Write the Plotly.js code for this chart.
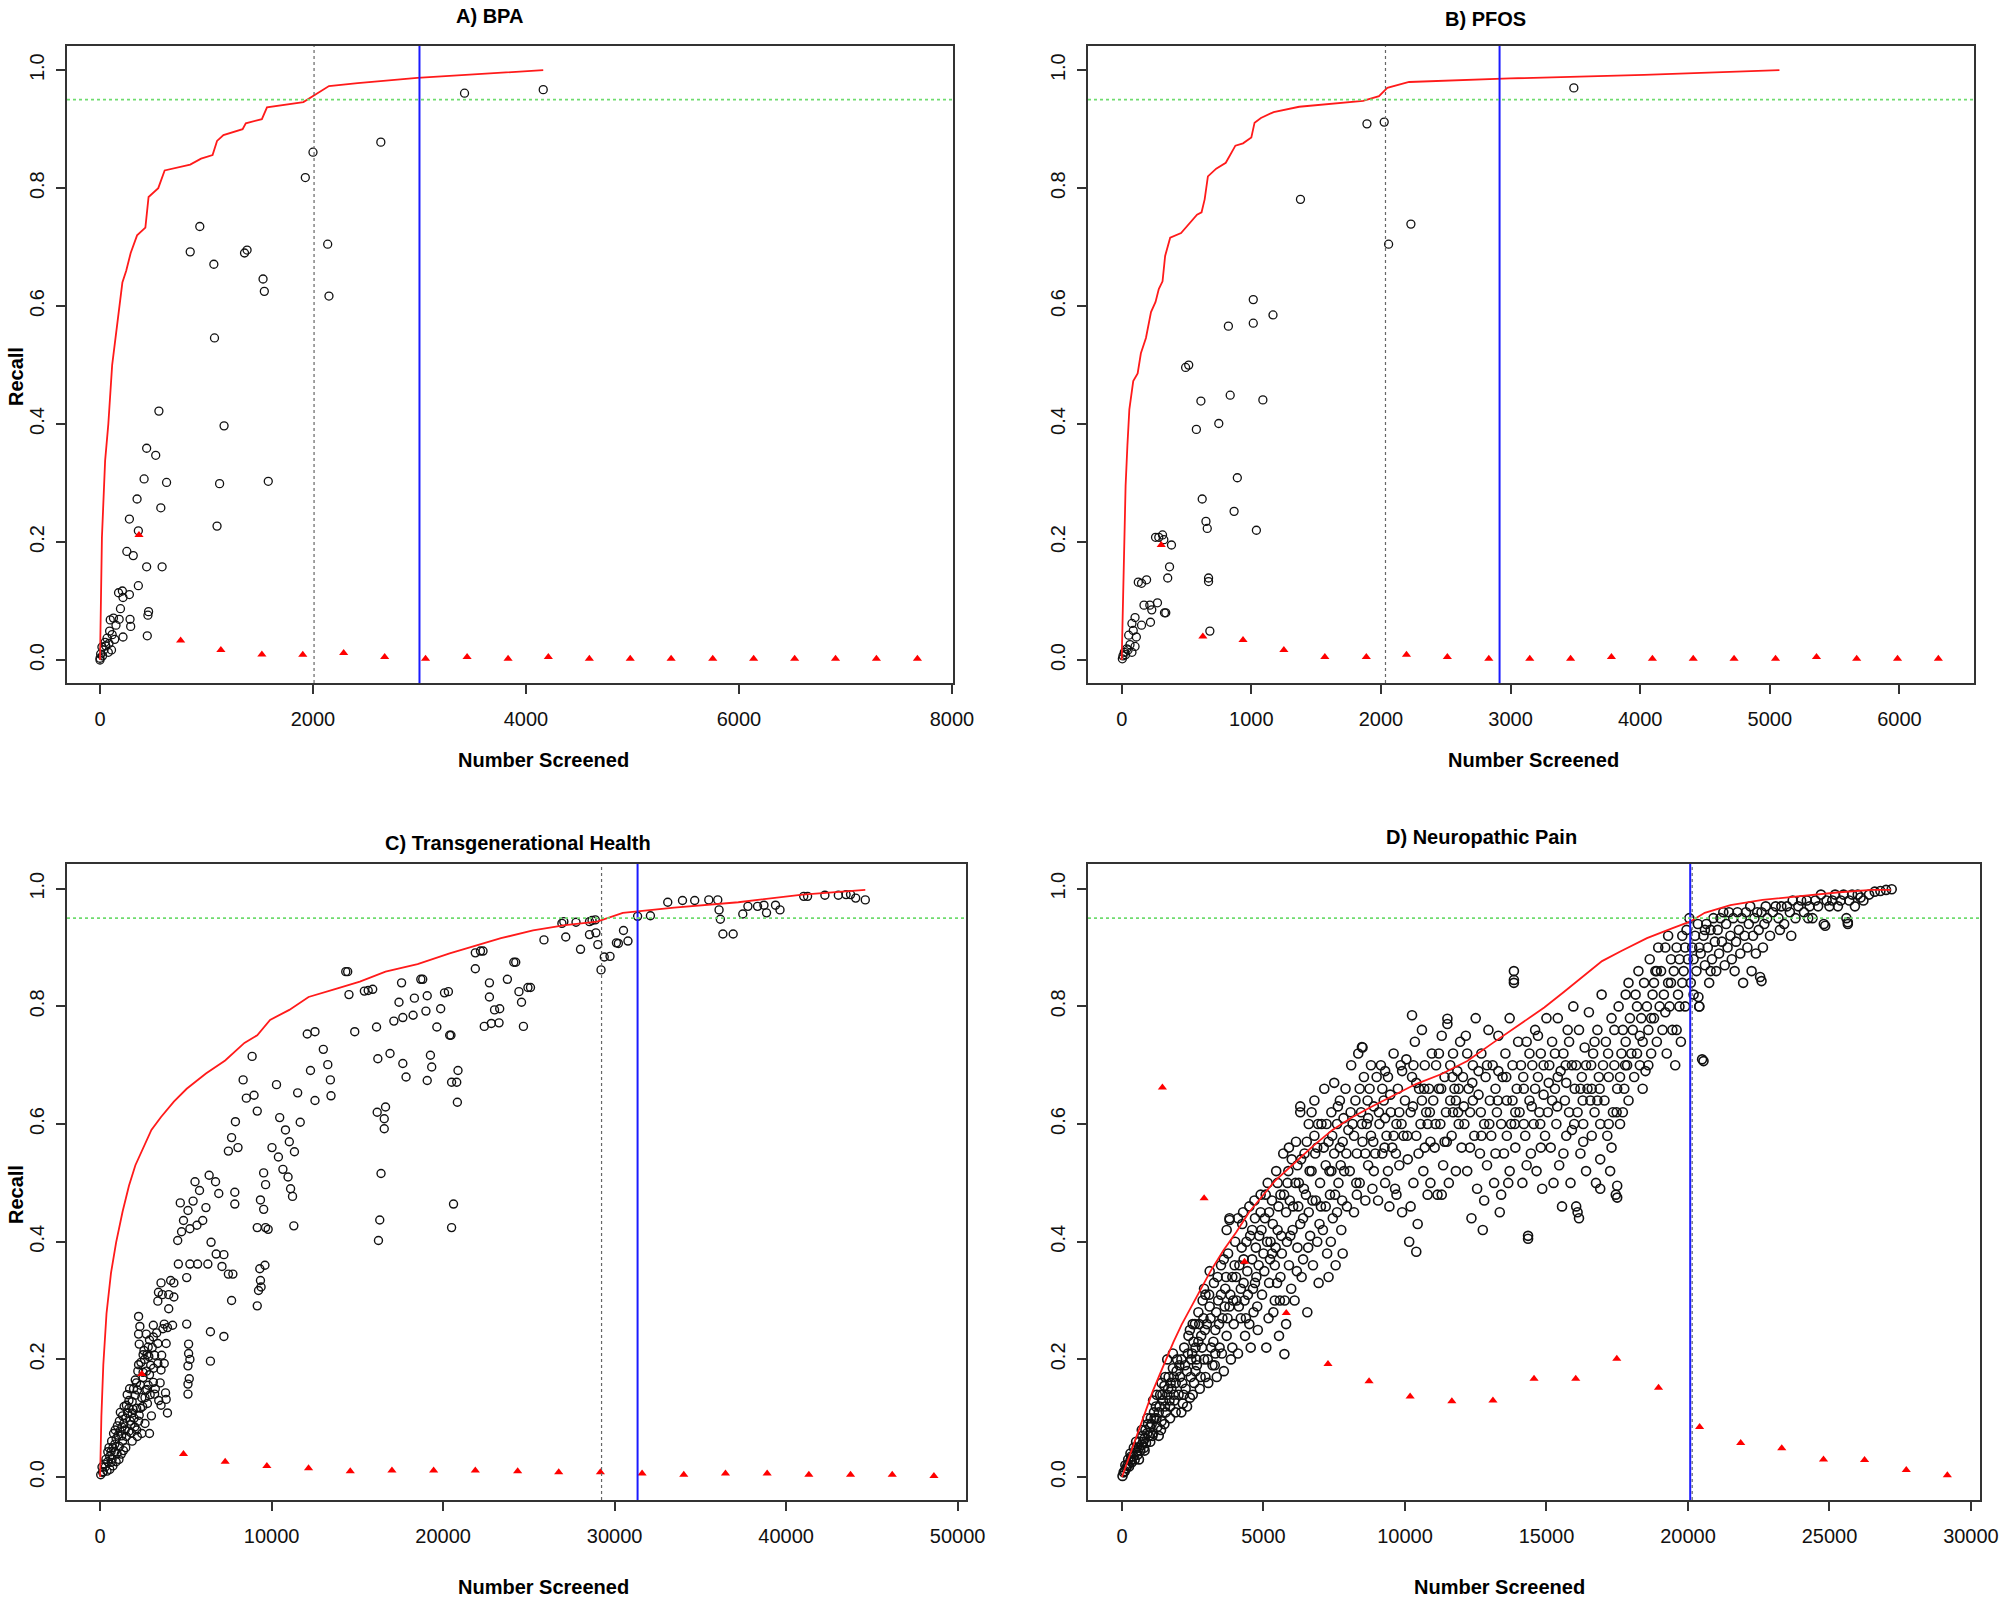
<!DOCTYPE html>
<html><head><meta charset="utf-8">
<script src="https://cdn.plot.ly/plotly-3.0.1.min.js"></script>
<style>html,body{margin:0;padding:0;background:#fff}#chart{width:2010px;height:1604px}</style>
</head><body><div id="chart"></div>
<script>
const panelTitles = ["A) BPA", "B) PFOS", "C) Transgenerational Health", "D) Neuropathic Pain"];
const xTitle = "Number Screened";
const yTitle = "Recall";
const targetRecall = 0.95;
const grayCutoffs = [2010, 2035, 29240, 20150];
const blueCutoffs = [3000, 2915, 31340, 20080];

// ---- A) BPA ----
const bpaCurve = [[0,0],[6,0.078],[18,0.208],[48,0.338],[78,0.40],[114,0.50],[156,0.56],[186,0.60],[210,0.64],[246,0.66],[288,0.69],[348,0.72],[426,0.733],[456,0.785],[547,0.80],[607,0.83],[679,0.833],[847,0.84],[949,0.85],[1057,0.856],[1099,0.88],[1159,0.89],[1339,0.90],[1369,0.91],[1520,0.917],[1568,0.937],[1910,0.946],[2060,0.963],[2132,0.97],[2150,0.973],[2420,0.978],[2979,0.987],[4162,1.0]];
const bpaCircles = [[3423,0.961],[4162,0.967],[2637,0.878],[2000,0.861],[1928,0.818],[2138,0.705],[2150,0.617],[937,0.735],[847,0.692],[1069,0.671],[1357,0.690],[1381,0.695],[1531,0.646],[1543,0.625],[1075,0.546],[553,0.422],[1165,0.397],[438,0.359],[523,0.347],[414,0.307],[625,0.301],[1123,0.299],[1580,0.303],[348,0.273],[571,0.258],[276,0.239],[1099,0.227],[360,0.219],[252,0.184],[312,0.177],[438,0.158],[583,0.158],[360,0.126],[210,0.117],[174,0.114],[276,0.111],[216,0.106],[192,0.087],[456,0.082],[450,0.076],[180,0.069],[282,0.069],[96,0.068],[126,0.071],[150,0.059],[288,0.057],[444,0.041],[216,0.039],[90,0.049],[66,0.037],[114,0.043],[48,0.030],[84,0.028],[18,0.022],[36,0.017],[108,0.017],[6,0.010],[24,0.007],[0,0.0],[54,0.024],[138,0.035],[78,0.013],[0,0.003]];
const bpaTriangles = [[366,0.212],[757,0.033],[1135,0.017],[1520,0.0095],[1904,0.0087],[2288,0.012],[2673,0.005],[3057,0.002],[3447,0.005],[3832,0.002],[4210,0.005],[4595,0.002],[4979,0.002],[5363,0.002],[5754,0.002],[6138,0.002],[6523,0.002],[6907,0.002],[7291,0.002],[7676,0.002]];

// ---- B) PFOS ----
const pfosCurve = [[0,0],[10,0.121],[20,0.208],[30,0.295],[44,0.364],[59,0.425],[89,0.473],[123,0.486],[148,0.52],[187,0.546],[226,0.59],[261,0.607],[286,0.629],[315,0.642],[335,0.685],[374,0.716],[458,0.724],[507,0.737],[581,0.755],[616,0.759],[640,0.781],[665,0.820],[729,0.833],[803,0.843],[877,0.872],[936,0.876],[1000,0.886],[1025,0.911],[1074,0.919],[1172,0.929],[1369,0.938],[1862,0.948],[1985,0.956],[2049,0.970],[2217,0.980],[2995,0.986],[4030,0.992],[5074,1.0]];
const pfosCircles = [[3488,0.970],[1892,0.909],[2025,0.912],[1379,0.781],[2231,0.739],[2059,0.705],[1015,0.611],[1167,0.585],[823,0.566],[1015,0.571],[493,0.496],[517,0.500],[611,0.439],[837,0.449],[1089,0.441],[576,0.391],[749,0.401],[892,0.309],[621,0.273],[867,0.252],[650,0.235],[660,0.223],[1039,0.220],[261,0.208],[286,0.208],[315,0.212],[325,0.204],[384,0.195],[369,0.158],[355,0.139],[670,0.139],[670,0.133],[128,0.132],[153,0.130],[192,0.136],[172,0.093],[217,0.093],[232,0.085],[276,0.097],[330,0.080],[340,0.080],[103,0.072],[79,0.062],[153,0.059],[222,0.064],[89,0.050],[680,0.049],[54,0.042],[113,0.039],[64,0.026],[103,0.023],[39,0.019],[79,0.013],[20,0.013],[10,0.007],[5,0.002],[30,0.009],[49,0.017]];
const pfosTriangles = [[305,0.195],[626,0.040],[936,0.034],[1251,0.017],[1567,0.005],[1887,0.005],[2197,0.009],[2512,0.005],[2832,0.002],[3148,0.002],[3463,0.002],[3778,0.005],[4094,0.002],[4409,0.002],[4724,0.002],[5044,0.002],[5360,0.005],[5670,0.002],[5985,0.002],[6300,0.002]];

// ---- C) Transgenerational Health ----
const transCurve = [[0,0],[75,0.104],[187,0.191],[374,0.278],[636,0.347],[935,0.399],[1309,0.451],[1683,0.495],[2057,0.530],[2506,0.560],[2992,0.590],[3553,0.612],[4301,0.638],[5049,0.660],[6171,0.686],[7293,0.708],[8415,0.738],[9163,0.751],[9911,0.777],[11033,0.794],[12155,0.816],[13651,0.829],[15147,0.842],[16643,0.859],[18513,0.872],[20383,0.890],[21879,0.903],[23375,0.916],[25245,0.929],[27115,0.938],[28985,0.944],[30481,0.959],[33473,0.968],[37213,0.977],[40953,0.990],[44618,0.998]];
const transCircles = [[26928,0.941],[27040,0.944],[27750,0.943],[28536,0.944],[28686,0.946],[28873,0.947],[25881,0.913],[27152,0.918],[28013,0.897],[28536,0.922],[28910,0.925],[29022,0.905],[29209,0.862],[29396,0.884],[29733,0.885],[30107,0.908],[30219,0.907],[30518,0.929],[30780,0.911],[31341,0.953],[32089,0.954],[33099,0.977],[33959,0.980],[34670,0.980],[35492,0.981],[36016,0.981],[36091,0.964],[36166,0.948],[36315,0.923],[36914,0.923],[37475,0.957],[37774,0.970],[38335,0.970],[38709,0.972],[38859,0.959],[39383,0.972],[39644,0.964],[41028,0.987],[41252,0.987],[42262,0.989],[43047,0.989],[43496,0.990],[43758,0.990],[44057,0.984],[44618,0.981],
[14324,0.859],[14436,0.859],[14511,0.820],[15409,0.826],[15633,0.827],[15895,0.829],[17578,0.840],[17428,0.807],[17652,0.781],[17129,0.775],[18326,0.814],[18251,0.785],[18700,0.846],[18812,0.846],[19074,0.818],[18999,0.792],[19859,0.796],[20083,0.823],[20308,0.825],[20383,0.751],[20458,0.751],[21879,0.891],[22178,0.894],[22327,0.894],[21879,0.864],[22701,0.840],[22701,0.816],[23000,0.794],[23300,0.796],[22402,0.766],[22813,0.771],[23262,0.772],[23749,0.846],[24123,0.875],[24235,0.875],[24422,0.825],[24572,0.807],[24946,0.832],[25096,0.832],[24684,0.766],[16119,0.765],[16194,0.711],[16905,0.720],[17652,0.703],[17839,0.680],[19074,0.674],[19261,0.717],[19336,0.697],[20495,0.671],[20794,0.671],[20869,0.691],[20832,0.637],[19635,0.765],[16157,0.620],[16643,0.629],[16568,0.609],[16568,0.592],[16381,0.516],[16306,0.437],[16231,0.402],[20607,0.464],[20495,0.424],
[8864,0.715],[8340,0.675],[8527,0.644],[8976,0.649],[9163,0.622],[10285,0.667],[10472,0.611],[10023,0.560],[10397,0.544],[10809,0.590],[11033,0.570],[11332,0.553],[10659,0.523],[10959,0.510],[11107,0.490],[11220,0.477],[11295,0.427],[11519,0.653],[11669,0.603],[12080,0.753],[12529,0.757],[12267,0.691],[12529,0.640],[13016,0.727],[13277,0.701],[13427,0.675],[13464,0.648],[14848,0.757],[7891,0.604],[7667,0.577],[7480,0.554],[8041,0.560],[6732,0.502],[6919,0.482],[7854,0.484],[7854,0.464],[6358,0.513],[5797,0.487],[6171,0.458],[5984,0.436],[6470,0.399],[6769,0.379],[7106,0.358],[7218,0.378],[7480,0.345],[7742,0.345],[7667,0.300],[9537,0.517],[9649,0.497],[9350,0.471],[9537,0.455],[9163,0.424],[9649,0.424],[9799,0.421],[9612,0.360],[9312,0.354],[9350,0.334],[9238,0.317],[9163,0.291],[9387,0.323],
[5535,0.502],[5423,0.469],[5124,0.453],[4675,0.466],[4862,0.436],[4750,0.417],[4525,0.402],[5236,0.422],[5647,0.428],[4563,0.362],[5236,0.362],[5684,0.362],[5049,0.339],[4301,0.330],[4114,0.334],[3553,0.330],[3403,0.314],[3628,0.310],[4002,0.310],[4301,0.306],[3366,0.299],[4002,0.286],[2244,0.273],[2319,0.256],[3104,0.258],[3740,0.260],[4226,0.258],[3665,0.252],[3927,0.254],[2244,0.243],[2693,0.243],[3104,0.238],[2880,0.233],[2281,0.226],[2805,0.221],[3366,0.227],[3852,0.227],[2506,0.208],[2730,0.208],[3179,0.207],[3590,0.207],[2244,0.191],[2506,0.178],[3366,0.193],[3553,0.182],[3740,0.193],[2880,0.174],[3104,0.161],[2730,0.149],[3179,0.141],[3815,0.143],[3852,0.132],[3927,0.109],[3553,0.122],[2618,0.135],[2132,0.117],[2880,0.074],[5049,0.260],[5161,0.226],[5161,0.210],[5236,0.200],[5124,0.189],[5199,0.167],[5124,0.158],[5124,0.141],[6433,0.247],[6433,0.197],[7218,0.239],[6283,0.362],
[187,0.009],[299,0.017],[449,0.026],[561,0.035],[636,0.043],[748,0.050],[860,0.056],[935,0.065],[1047,0.071],[1159,0.078],[1272,0.085],[1384,0.091],[1496,0.100],[1608,0.109],[1683,0.117],[1870,0.128],[2057,0.139],[2169,0.148],[2356,0.156],[2506,0.169],[1683,0.078],[1870,0.061],[1496,0.050],[1234,0.039],[935,0.026],[748,0.019],[561,0.013],[2132,0.080],[2244,0.095],[1982,0.100],[1795,0.089],[1533,0.069],[1309,0.061],[1122,0.052],[860,0.043],[1309,0.104],[1122,0.095],[1010,0.087],[785,0.074],[673,0.061],[449,0.043],[337,0.030],[112,0.017],[37,0.004],[1683,0.130],[1533,0.122],[1870,0.109],[2356,0.117],[2431,0.135],[2655,0.148],[2805,0.156],[2992,0.104],[2618,0.091],[2431,0.074],[2169,0.069],[1950,0.150],[2200,0.180],[2050,0.165],[1400,0.120],[1750,0.095],[2600,0.200],[2950,0.190],[1100,0.030],[650,0.025],[400,0.010],
[1580,0.140],[1720,0.150],[1820,0.075],[1920,0.115],[2020,0.085],[2120,0.160],[2280,0.105],[2380,0.195],[2480,0.120],[2560,0.215],[2700,0.180],[2760,0.125],[2840,0.205],[2920,0.140],[3040,0.220],[3120,0.185],[3220,0.150],[3300,0.245],[3420,0.130],[3500,0.160],[1180,0.110],[1260,0.070],[1360,0.045],[1460,0.080],[990,0.040],[880,0.080],[700,0.030],[520,0.050],[240,0.022],[150,0.008]];
const transTriangles = [[2431,0.175],[4862,0.039],[7293,0.026],[9724,0.019],[12155,0.015],[14586,0.010],[17017,0.011],[19448,0.011],[21879,0.011],[24347,0.010],[26741,0.008],[29172,0.008],[31603,0.006],[34034,0.004],[36465,0.006],[38896,0.006],[41327,0.004],[43758,0.004],[46189,0.004],[48620,0.002]];

// ---- D) Neuropathic Pain ----
const neuroCurve = [[0,0],[181,0.024],[408,0.055],[635,0.085],[862,0.116],[1089,0.146],[1315,0.172],[1542,0.198],[1814,0.229],[2109,0.259],[2449,0.290],[2789,0.320],[3130,0.350],[3583,0.385],[4037,0.416],[4491,0.450],[4944,0.477],[5398,0.503],[6078,0.533],[6759,0.563],[7439,0.590],[8119,0.611],[8800,0.629],[9480,0.646],[10387,0.668],[11295,0.685],[12202,0.707],[13109,0.738],[14016,0.768],[14923,0.798],[15603,0.824],[16284,0.850],[16964,0.877],[17644,0.894],[18552,0.916],[19459,0.933],[20071,0.944],[20593,0.959],[21500,0.972],[22634,0.981],[23995,0.988],[25355,0.994],[26490,0.998],[27170,0.998]];
const neuroCircles = [[20,0.002],[60,0.008],[100,0.01],[150,0.015],[200,0.02],[250,0.018],[300,0.028],[350,0.025],[400,0.035],[450,0.03],[500,0.042],[550,0.038],[600,0.05],[650,0.045],[700,0.055],[750,0.06],[800,0.065],[850,0.058],[900,0.075],[950,0.07],[1000,0.085],[300,0.04],[500,0.06],[700,0.08],[900,0.1],[1000,0.06],[800,0.045],[600,0.03],
[1050,0.09],[1100,0.075],[1150,0.1],[1200,0.12],[1250,0.085],[1300,0.11],[1350,0.14],[1400,0.095],[1450,0.13],[1500,0.155],[1550,0.11],[1600,0.14],[1650,0.17],[1700,0.12],[1750,0.15],[1800,0.185],[1850,0.13],[1900,0.16],[1950,0.2],[2000,0.14],[1100,0.13],[1300,0.07],[1500,0.09],[1700,0.1],[1900,0.11],[1600,0.2],[1400,0.16],[1800,0.21],
[2050,0.17],[2100,0.2],[2150,0.125],[2200,0.22],[2250,0.15],[2300,0.18],[2350,0.24],[2400,0.135],[2450,0.2],[2500,0.26],[2550,0.16],[2600,0.22],[2650,0.19],[2700,0.28],[2750,0.15],[2800,0.24],[2850,0.3],[2900,0.2],[2950,0.17],[3000,0.26],[2100,0.11],[2300,0.12],[2500,0.14],[2700,0.23],[2900,0.32],[2950,0.31],[2600,0.18],[2400,0.25],
[3050,0.16],[3100,0.29],[3150,0.22],[3200,0.19],[3250,0.33],[3300,0.25],[3350,0.17],[3400,0.3],[3450,0.22],[3500,0.36],[3550,0.27],[3600,0.18],[3650,0.32],[3700,0.24],[3750,0.38],[3800,0.29],[3850,0.2],[3900,0.34],[3950,0.26],[4000,0.4],[3100,0.35],[3300,0.21],[3500,0.31],[3700,0.42],[3800,0.44],[3900,0.22],[3600,0.37],
[4050,0.3],[4100,0.21],[4150,0.36],[4200,0.27],[4250,0.43],[4300,0.33],[4350,0.24],[4400,0.4],[4450,0.31],[4500,0.46],[4550,0.22],[4600,0.37],[4650,0.28],[4700,0.44],[4750,0.34],[4800,0.25],[4850,0.41],[4900,0.48],[4950,0.31],[5000,0.38],[4100,0.44],[4300,0.37],[4500,0.26],[4700,0.33],[4900,0.45],[4600,0.42],[4200,0.32],
[5050,0.44],[5100,0.22],[5150,0.5],[5200,0.33],[5250,0.4],[5300,0.47],[5350,0.28],[5400,0.36],[5450,0.52],[5500,0.42],[5550,0.24],[5600,0.48],[5650,0.38],[5700,0.55],[5750,0.3],[5800,0.45],[5850,0.5],[5900,0.36],[5950,0.41],[6000,0.54],[5200,0.45],[5400,0.3],[5600,0.34],[5800,0.26],[5900,0.56],[5500,0.5],[5300,0.38],
[6050,0.46],[6100,0.3],[6150,0.57],[6200,0.39],[6250,0.5],[6300,0.62],[6350,0.34],[6400,0.44],[6450,0.55],[6500,0.48],[6550,0.28],[6600,0.6],[6650,0.41],[6700,0.52],[6750,0.36],[6800,0.64],[6850,0.47],[6900,0.56],[6950,0.33],[7000,0.5],[6200,0.53],[6400,0.37],[6600,0.45],[6800,0.58],[6900,0.4],[6300,0.43],[6700,0.62],
[7050,0.6],[7100,0.42],[7150,0.66],[7200,0.53],[7250,0.38],[7300,0.57],[7350,0.48],[7400,0.62],[7450,0.44],[7500,0.55],[7550,0.36],[7600,0.6],[7650,0.5],[7700,0.64],[7750,0.42],[7800,0.57],[7850,0.52],[7900,0.66],[7950,0.46],[8000,0.59],[7200,0.46],[7400,0.52],[7600,0.45],[7800,0.38],[7500,0.67],[7700,0.56],[7300,0.34],
[8050,0.52],[8100,0.7],[8150,0.6],[8200,0.45],[8250,0.64],[8300,0.55],[8350,0.72],[8400,0.5],[8450,0.62],[8500,0.57],[8550,0.68],[8600,0.47],[8650,0.6],[8700,0.53],[8750,0.66],[8800,0.58],[8850,0.49],[8900,0.63],[8950,0.55],[9000,0.68],[8200,0.58],[8400,0.66],[8600,0.55],[8800,0.7],[8300,0.48],[8700,0.61],[8900,0.52],
[9050,0.47],[9100,0.6],[9150,0.7],[9200,0.55],[9250,0.64],[9300,0.5],[9350,0.58],[9400,0.68],[9450,0.46],[9500,0.62],[9550,0.56],[9600,0.72],[9650,0.49],[9700,0.6],[9750,0.66],[9800,0.53],[9850,0.7],[9900,0.45],[9950,0.58],[10000,0.64],[9200,0.66],[9400,0.52],[9600,0.58],[9800,0.62],[9300,0.61],[9700,0.48],[9900,0.69],
[10050,0.71],[10100,0.54],[10150,0.4],[10200,0.62],[10250,0.68],[10300,0.5],[10350,0.74],[10400,0.58],[10450,0.43],[10500,0.66],[10550,0.6],[10600,0.76],[10650,0.52],[10700,0.7],[10750,0.62],[10800,0.48],[10850,0.66],[10900,0.57],[10950,0.72],[11000,0.64],[10200,0.46],[10400,0.67],[10600,0.64],[10800,0.6],[10300,0.7],[10700,0.56],[10900,0.5],
[11050,0.56],[11100,0.7],[11150,0.48],[11200,0.66],[11250,0.6],[11300,0.75],[11350,0.53],[11400,0.68],[11450,0.62],[11500,0.77],[11550,0.5],[11600,0.64],[11650,0.58],[11700,0.72],[11750,0.66],[11800,0.52],[11850,0.69],[11900,0.6],[11950,0.74],[12000,0.56],[11200,0.72],[11400,0.57],[11600,0.7],[11800,0.64],[11300,0.48],[11700,0.62],[11900,0.66],
[12050,0.68],[12100,0.6],[12150,0.75],[12200,0.52],[12250,0.66],[12300,0.62],[12350,0.44],[12400,0.7],[12450,0.58],[12500,0.78],[12550,0.49],[12600,0.65],[12650,0.55],[12700,0.72],[12750,0.42],[12800,0.6],[12850,0.68],[12900,0.53],[12950,0.76],[13000,0.64],[12200,0.72],[12400,0.64],[12600,0.69],[12800,0.47],[12300,0.56],[12700,0.58],[12900,0.7],
[13050,0.58],[13100,0.7],[13150,0.5],[13200,0.66],[13250,0.62],[13300,0.75],[13350,0.45],[13400,0.6],[13450,0.68],[13500,0.55],[13550,0.72],[13600,0.64],[13650,0.5],[13700,0.78],[13750,0.6],[13800,0.7],[13850,0.84],[13900,0.56],[13950,0.66],[14000,0.74],[13200,0.55],[13400,0.48],[13600,0.58],[13800,0.64],[13300,0.69],[13700,0.52],[13900,0.62],
[14050,0.62],[14100,0.7],[14150,0.5],[14200,0.66],[14250,0.58],[14300,0.74],[14350,0.41],[14400,0.64],[14450,0.55],[14500,0.7],[14550,0.6],[14600,0.76],[14650,0.52],[14700,0.68],[14750,0.62],[14800,0.72],[14850,0.49],[14900,0.65],[14950,0.58],[15000,0.78],[14200,0.6],[14400,0.72],[14600,0.66],[14800,0.56],[14300,0.53],[14700,0.75],[14900,0.7],
[15050,0.62],[15100,0.7],[15150,0.56],[15200,0.74],[15250,0.5],[15300,0.66],[15350,0.6],[15400,0.78],[15450,0.53],[15500,0.69],[15550,0.46],[15600,0.72],[15650,0.64],[15700,0.58],[15750,0.76],[15800,0.62],[15850,0.5],[15900,0.7],[15950,0.8],[16000,0.66],[15200,0.64],[15400,0.68],[15600,0.55],[15800,0.74],[15300,0.72],[15700,0.67],[15900,0.59],
[16050,0.7],[16100,0.62],[16150,0.76],[16200,0.55],[16250,0.68],[16300,0.6],[16350,0.73],[16400,0.52],[16450,0.66],[16500,0.79],[16550,0.64],[16600,0.58],[16650,0.72],[16700,0.62],[16750,0.5],[16800,0.76],[16850,0.68],[16900,0.6],[16950,0.82],[17000,0.7],[16200,0.66],[16400,0.7],[16600,0.66],[16800,0.64],[16300,0.57],[16700,0.74],[16900,0.54],
[17050,0.64],[17100,0.74],[17150,0.58],[17200,0.68],[17250,0.52],[17300,0.78],[17350,0.62],[17400,0.7],[17450,0.48],[17500,0.66],[17550,0.8],[17600,0.6],[17650,0.72],[17700,0.76],[17750,0.66],[17800,0.82],[17850,0.7],[17900,0.64],[17950,0.78],[18000,0.72],[17200,0.6],[17400,0.76],[17600,0.68],[17800,0.74],[17300,0.56],[17700,0.62],[17900,0.84],
[18050,0.76],[18100,0.68],[18150,0.82],[18200,0.72],[18250,0.86],[18300,0.7],[18350,0.78],[18400,0.74],[18450,0.84],[18500,0.69],[18550,0.8],[18600,0.76],[18650,0.88],[18700,0.72],[18750,0.82],[18800,0.78],[18850,0.86],[18900,0.74],[18950,0.9],[19000,0.8],[18200,0.8],[18400,0.66],[18600,0.7],[18800,0.84],[18300,0.75],[18700,0.78],[18900,0.86],
[19050,0.86],[19100,0.76],[19150,0.82],[19200,0.9],[19250,0.72],[19300,0.84],[19350,0.8],[19400,0.88],[19450,0.76],[19500,0.86],[19550,0.7],[19600,0.9],[19650,0.82],[19700,0.88],[19750,0.74],[19800,0.92],[19850,0.86],[19900,0.8],[19950,0.93],[20000,0.88],[19200,0.79],[19400,0.84],[19600,0.76],[19800,0.84],[19300,0.92],[19700,0.8],[19900,0.9],
[20050,0.95],[20100,0.84],[20150,0.9],[20200,0.82],[20250,0.92],[20300,0.86],[20350,0.94],[20400,0.8],[20450,0.89],[20500,0.71],[20550,0.92],[20600,0.87],[20650,0.94],[20700,0.9],[20750,0.84],[20800,0.93],[20850,0.88],[20900,0.95],[20950,0.91],[21000,0.86],[20200,0.88],[20400,0.9],[20600,0.93],[20800,0.86],
[21050,0.93],[21100,0.89],[21150,0.95],[21200,0.91],[21300,0.87],[21350,0.94],[21400,0.9],[21450,0.96],[21500,0.92],[21550,0.88],[21600,0.95],[21700,0.91],[21750,0.96],[21800,0.93],[21850,0.89],[21900,0.95],[22000,0.92],[21250,0.96],[21650,0.86],[21950,0.84],
[22050,0.96],[22100,0.9],[22150,0.94],[22200,0.97],[22300,0.92],[22350,0.95],[22400,0.89],[22450,0.96],[22500,0.93],[22600,0.96],[22700,0.94],[22750,0.97],[22800,0.95],[22900,0.92],[23000,0.96],[22250,0.86],[22550,0.85],[22650,0.9],
[23100,0.97],[23200,0.95],[23300,0.97],[23400,0.94],[23500,0.97],[23600,0.96],[23700,0.98],[23800,0.95],[23900,0.97],[24000,0.98],[24100,0.96],[24200,0.98],[24300,0.97],[24400,0.95],[24500,0.98],[24600,0.97],[24700,0.99],[24800,0.94],[24900,0.98],[25000,0.97],[23250,0.93],[23650,0.92],[24250,0.95],
[25100,0.98],[25200,0.99],[25300,0.97],[25400,0.98],[25500,0.99],[25600,0.95],[25700,0.98],[25800,0.99],[25900,0.97],[26000,0.99],[26200,0.98],[26400,0.99],[26600,0.995],[26800,0.996],[27000,0.998],[27200,0.999],[25650,0.94],[26100,0.985],
[13850,0.86],[13850,0.845],[14350,0.405],[10400,0.383],[20550,0.707],[22600,0.843],[20370,0.816],[20400,0.8],[24850,0.937],[25650,0.943],[11500,0.779],[10250,0.785],[8480,0.731],[3800,0.437],[5740,0.209],[16100,0.45],[16050,0.46],[17500,0.475],[17500,0.495],[16900,0.49],[16150,0.44],[9300,0.69],[8500,0.73],[6300,0.63],
[120,0.02],[220,0.03],[330,0.035],[420,0.05],[520,0.05],[620,0.06],[720,0.07],[830,0.08],[920,0.09],[1020,0.1],[1130,0.11],[1220,0.1],[1330,0.12],[1430,0.14],[1520,0.12],[1630,0.15],[1720,0.16],[1830,0.17],[1930,0.18],[1230,0.14],[1530,0.17],[1830,0.14],[1680,0.13],[1380,0.08],[1080,0.07],[780,0.05],
[2030,0.19],[2130,0.16],[2230,0.19],[2330,0.21],[2430,0.17],[2530,0.23],[2630,0.2],[2730,0.26],[2830,0.22],[2930,0.25],[3030,0.2],[3130,0.27],[3230,0.23],[3330,0.28],[3430,0.26],[3530,0.21],[3630,0.29],[3730,0.27],[3830,0.31],[3930,0.3],[2180,0.14],[2480,0.21],[2780,0.17],[3080,0.31],[3380,0.34],[3680,0.34],[3980,0.36],[3280,0.19],[2580,0.26],[2880,0.27],
[4030,0.34],[4130,0.29],[4230,0.39],[4330,0.3],[4430,0.35],[4530,0.41],[4630,0.32],[4730,0.39],[4830,0.36],[4930,0.42],[5030,0.35],[5130,0.4],[5230,0.37],[5330,0.43],[5430,0.39],[5530,0.46],[5630,0.41],[5730,0.48],[5830,0.4],[5930,0.47],[4380,0.27],[4780,0.29],[5180,0.27],[5580,0.3],[5980,0.32],[4280,0.45],[4680,0.47],[5080,0.48],[5480,0.33],[5880,0.52],
[6030,0.42],[6130,0.5],[6230,0.46],[6330,0.54],[6430,0.49],[6530,0.57],[6630,0.52],[6730,0.47],[6830,0.55],[6930,0.6],[7030,0.46],[7130,0.56],[7230,0.6],[7330,0.52],[7430,0.58],[7530,0.48],[7630,0.63],[7730,0.53],[7830,0.61],[7930,0.55],[6180,0.35],[6580,0.39],[6980,0.43],[7380,0.4],[7780,0.47],
[8080,0.62],[8280,0.5],[8480,0.6],[8680,0.64],[8880,0.57],[9080,0.62],[9280,0.56],[9480,0.65],[9680,0.55],[9880,0.6],[10080,0.58],[10280,0.63],[10480,0.55],[10680,0.66],[10880,0.62],[11080,0.6],[11280,0.66],[11480,0.57],[11680,0.68],[11880,0.62],
[12080,0.63],[12380,0.67],[12680,0.62],[12980,0.6],[13280,0.64],[13580,0.68],[13880,0.6],[14180,0.68],[14480,0.63],[14780,0.6],[15080,0.67],[15380,0.63],[15680,0.7],[15980,0.6],[16280,0.64],[16580,0.7],[16880,0.66],[17180,0.72],[17480,0.62],[17780,0.7]];
const neuroTriangles = [[1429,0.662],[2903,0.474],[4332,0.366],[5806,0.279],[7280,0.192],[8732,0.163],[10183,0.137],[11657,0.129],[13109,0.130],[14561,0.167],[16035,0.167],[17486,0.201],[18960,0.152],[20412,0.085],[21864,0.058],[23315,0.049],[24790,0.030],[26241,0.029],[27715,0.012],[29166,0.003]];

const curves = [bpaCurve, pfosCurve, transCurve, neuroCurve];
const circles = [bpaCircles, pfosCircles, transCircles, neuroCircles];
const triangles = [bpaTriangles, pfosTriangles, transTriangles, neuroTriangles];
const xTicks = [[0,2000,4000,6000,8000],[0,1000,2000,3000,4000,5000,6000],[0,10000,20000,30000,40000,50000],[0,5000,10000,15000,20000,25000,30000]];

// ---- layout geometry (pixels) ----
const W = 2010, H = 1604;
const boxes = [[67,953,46,683],[1088,1974,46,683],[67,966,864,1500],[1088,1980,864,1500]];
const xRanges = [[-310,8010],[-260,6575],[-1930,50490],[-1200,30320]];
const yRanges = [[-0.039,1.041],[-0.039,1.041],[-0.039,1.042],[-0.039,1.042]];
const titlePos = [[489,16],[1485,19],[518,843],[1481,837]];
const xTitlePos = [[543,760],[1533,760],[543,1587],[1499,1587]];
const yTitlePos = [[16,376],null,[16,1194],null];
const circleSize = [8, 8, 8, 9];
const circleLine = [1.3, 1.3, 1.4, 1.6];

const font = 'Liberation Sans, Arial, Helvetica, sans-serif';
const traces = [];
const layout = {width:W, height:H, margin:{l:0,r:0,t:0,b:0}, paper_bgcolor:'#fff', plot_bgcolor:'#fff', showlegend:false, shapes:[], annotations:[], font:{family:font, color:'#000'}};

for (let i = 0; i < 4; i++) {
  const sfx = i === 0 ? '' : String(i+1);
  const xa = 'x'+sfx, ya = 'y'+sfx;
  const b = boxes[i];
  const axCommon = {showgrid:false, zeroline:false, showline:true, mirror:true, linecolor:'#333', linewidth:2, ticks:'outside', ticklen:9, tickwidth:1.5, tickcolor:'#333', tickfont:{family:font, size:20, color:'#111'}, fixedrange:true};
  layout['xaxis'+sfx] = Object.assign({}, axCommon, {domain:[b[0]/W, b[1]/W], range:xRanges[i], anchor:ya, tickmode:'array', tickvals:xTicks[i], ticktext:xTicks[i].map(String), ticklabelstandoff:8});
  layout['yaxis'+sfx] = Object.assign({}, axCommon, {domain:[1-b[3]/H, 1-b[2]/H], range:yRanges[i], anchor:xa, tickmode:'array', tickvals:[0,0.2,0.4,0.6,0.8,1.0], ticktext:['0.0','0.2','0.4','0.6','0.8','1.0'], tickangle:-90, ticklabelstandoff:4});

  traces.push({type:'scatter', mode:'markers', xaxis:xa, yaxis:ya, x:circles[i].map(p=>p[0]), y:circles[i].map(p=>p[1]), marker:{symbol:'circle-open', size:circleSize[i], color:'#111', line:{width:circleLine[i], color:'#111'}}, hoverinfo:'skip'});
  traces.push({type:'scatter', mode:'markers', xaxis:xa, yaxis:ya, x:triangles[i].map(p=>p[0]), y:triangles[i].map(p=>p[1]), marker:{symbol:'triangle-up', size:8, color:'#ff0000'}, hoverinfo:'skip'});
  traces.push({type:'scatter', mode:'lines', xaxis:xa, yaxis:ya, x:curves[i].map(p=>p[0]), y:curves[i].map(p=>p[1]), line:{color:'#ff1a1a', width:1.8}, hoverinfo:'skip'});

  layout.shapes.push({type:'line', xref:xa, yref:ya+' domain', x0:grayCutoffs[i], x1:grayCutoffs[i], y0:0, y1:1, line:{color:'#666', width:1.2, dash:'dot'}, layer:'above'});
  layout.shapes.push({type:'line', xref:xa, yref:ya+' domain', x0:blueCutoffs[i], x1:blueCutoffs[i], y0:0, y1:1, line:{color:'#1a1aff', width:2}, layer:'above'});
  layout.shapes.push({type:'line', xref:xa+' domain', yref:ya, x0:0, x1:1, y0:targetRecall, y1:targetRecall, line:{color:'#6fdc6f', width:1.6, dash:'dot'}, layer:'above'});

  layout.annotations.push({xref:'paper', yref:'paper', x:titlePos[i][0]/W, y:1-titlePos[i][1]/H, xanchor:'center', yanchor:'middle', showarrow:false, text:'<b>'+panelTitles[i]+'</b>', font:{family:font, size:20, color:'#000'}});
  layout.annotations.push({xref:'paper', yref:'paper', x:xTitlePos[i][0]/W, y:1-xTitlePos[i][1]/H, xanchor:'center', yanchor:'middle', showarrow:false, text:'<b>'+xTitle+'</b>', font:{family:font, size:20, color:'#000'}});
  if (yTitlePos[i]) {
    layout.annotations.push({xref:'paper', yref:'paper', x:yTitlePos[i][0]/W, y:1-yTitlePos[i][1]/H, xanchor:'center', yanchor:'middle', showarrow:false, textangle:-90, text:'<b>'+yTitle+'</b>', font:{family:font, size:20, color:'#000'}});
  }
}

Plotly.newPlot('chart', traces, layout, {displayModeBar:false, responsive:false});
</script>
</body></html>
